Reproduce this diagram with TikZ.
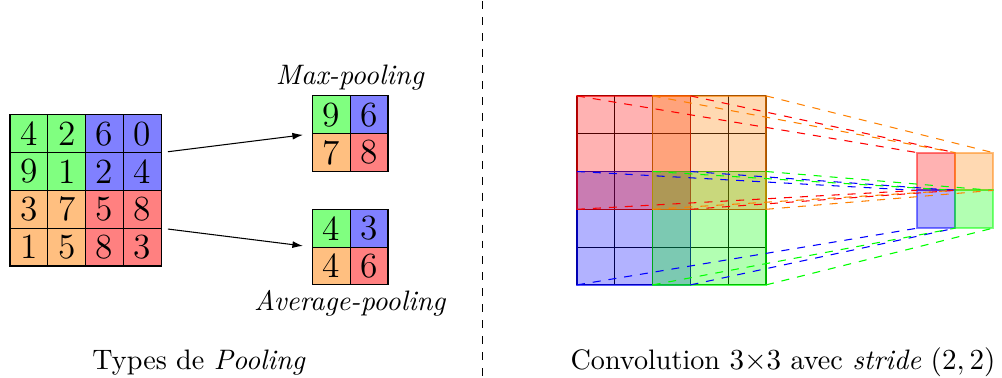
\documentclass[tikz,border=0pt]{standalone}
\usetikzlibrary{arrows.meta}
\newcommand{\mydigitfont}{\fontsize{13.3}{16}\selectfont}
\newcommand{\mylabelfont}{\fontsize{10.6}{12.7}\selectfont}
\begin{document}
\begin{tikzpicture}[x=0.5cm,y=0.5cm,
  cell/.style={draw=black, line width=0.4pt, minimum size=0.5cm, inner sep=0pt, outer sep=0pt, font=\mydigitfont},
  poolbox/.style={minimum size=1cm, inner sep=0pt, outer sep=0pt},
  lbl/.style={font=\mylabelfont, anchor=base, inner sep=0pt},
  gridline/.style={draw=black, line width=0.4pt},
  region/.style={draw=#1, fill=#1, fill opacity=0.3, draw opacity=0.65, line width=0.5pt, minimum size=1.5cm, inner sep=0pt, outer sep=0pt},
  outcell/.style={draw=#1, fill=#1, fill opacity=0.3, draw opacity=0.5, line width=0.7pt, minimum size=0.5cm, inner sep=0pt, outer sep=0pt},
  proj/.style={draw=#1, dashed, line width=0.4pt},
  poolarrow/.style={-{Latex[length=4pt,width=2.6pt]}, line width=0.4pt, shorten <=0.09cm, shorten >=0.125cm}
]
\useasboundingbox (-0.2646,-2.963) rectangle (26.243,7.037);

% ---------- Input grid (pooling) ----------
\node[cell, fill=green!50]  (i11) at (0.5,3.5) {4};
\node[cell, fill=green!50]  (i12) at (1.5,3.5) {2};
\node[cell, fill=blue!50]   (i13) at (2.5,3.5) {6};
\node[cell, fill=blue!50]   (i14) at (3.5,3.5) {0};
\node[cell, fill=green!50]  (i21) at (0.5,2.5) {9};
\node[cell, fill=green!50]  (i22) at (1.5,2.5) {1};
\node[cell, fill=blue!50]   (i23) at (2.5,2.5) {2};
\node[cell, fill=blue!50]   (i24) at (3.5,2.5) {4};
\node[cell, fill=orange!50] (i31) at (0.5,1.5) {3};
\node[cell, fill=orange!50] (i32) at (1.5,1.5) {7};
\node[cell, fill=red!50]    (i33) at (2.5,1.5) {5};
\node[cell, fill=red!50]    (i34) at (3.5,1.5) {8};
\node[cell, fill=orange!50] (i41) at (0.5,0.5) {1};
\node[cell, fill=orange!50] (i42) at (1.5,0.5) {5};
\node[cell, fill=red!50]    (i43) at (2.5,0.5) {8};
\node[cell, fill=red!50]    (i44) at (3.5,0.5) {3};

% ---------- Max-pooling ----------
\node[poolbox] (maxpool) at (9,3.5) {};
\node[cell, fill=green!50]  (m11) at (8.5,4) {9};
\node[cell, fill=blue!50]   (m12) at (9.5,4) {6};
\node[cell, fill=orange!50] (m21) at (8.5,3) {7};
\node[cell, fill=red!50]    (m22) at (9.5,3) {8};
\node[lbl] (tmax) at (9,4.79) {\textit{Max-pooling}};

% ---------- Average-pooling ----------
\node[poolbox] (avgpool) at (9,0.5) {};
\node[cell, fill=green!50]  (a11) at (8.5,1) {4};
\node[cell, fill=blue!50]   (a12) at (9.5,1) {3};
\node[cell, fill=orange!50] (a21) at (8.5,0) {4};
\node[cell, fill=red!50]    (a22) at (9.5,0) {6};
\node[lbl] (tavg) at (9,-1.177) {\textit{Average-pooling}};

% arrows
\draw[poolarrow] (i14.south east) -- (maxpool.west);
\draw[poolarrow] (i34.south east) -- (avgpool.west);

\node[lbl] (tpool) at (5,-2.733) {Types de \textit{Pooling}};

% ---------- separator ----------
\draw[dashed, line width=0.4pt] (12.5,7.0) -- (12.5,-2.93);

% ---------- Convolution ----------
\foreach \i in {0,...,5} {
  \draw[gridline] (15+\i,-0.5) -- (15+\i,4.5);
  \draw[gridline] (15,-0.5+\i) -- (20,-0.5+\i);
}
\node[region=blue]   (rB) at (16.5,1) {};
\node[region=red]    (rR) at (16.5,3) {};
\node[region=green]  (rG) at (18.5,1) {};
\node[region=orange] (rO) at (18.5,3) {};

\node[outcell=red]    (oR) at (24.5,2.5) {};
\node[outcell=orange] (oO) at (25.5,2.5) {};
\node[outcell=blue]   (oB) at (24.5,1.5) {};
\node[outcell=green]  (oG) at (25.5,1.5) {};

\foreach \c/\r/\o in {blue/rB/oB, red/rR/oR, green/rG/oG, orange/rO/oO} {
  \foreach \a in {north west, north east, south west, south east} {
    \draw[proj=\c] (\r.\a) -- (\o.\a);
  }
}

\node[lbl] (tconv) at (20.45,-2.733) {Convolution $3{\times}3$ avec \textit{stride} $(2,2)$};
\end{tikzpicture}
\end{document}
